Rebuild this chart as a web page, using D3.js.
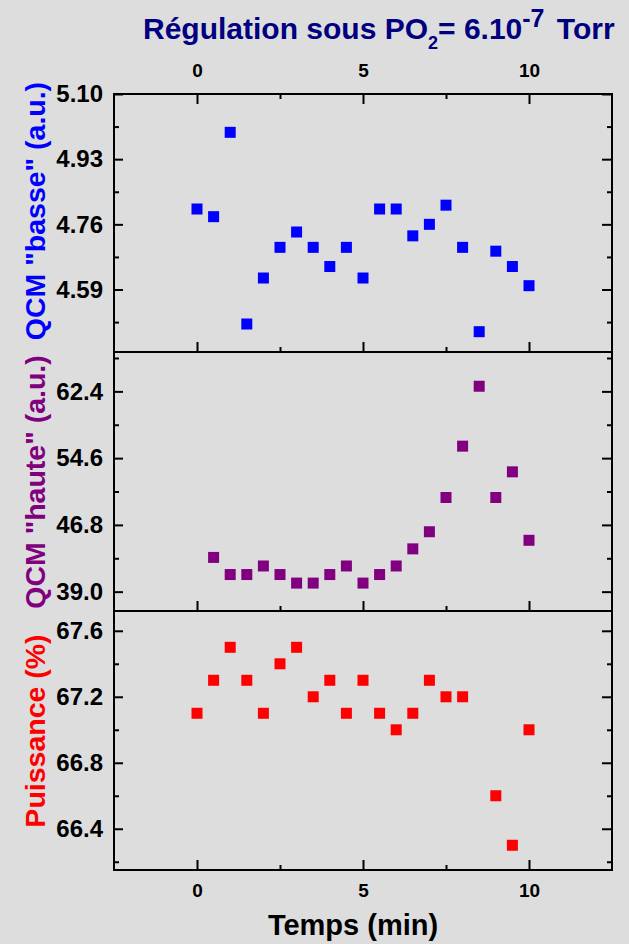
<!DOCTYPE html>
<html>
<head>
<meta charset="utf-8">
<script src="https://cdnjs.cloudflare.com/ajax/libs/d3/7.8.5/d3.min.js"></script>
<style>
body { margin: 0; background: #dddddd; }
svg { display: block; }
text { font-family: "Liberation Sans", Arial, sans-serif; font-weight: bold; }
</style>
</head>
<body>
<div id="chart"></div>
<script>
// temps (min)
var temps = [0, 0.5, 1, 1.5, 2, 2.5, 3, 3.5, 4, 4.5, 5, 5.5, 6, 6.5, 7, 7.5, 8, 8.5, 9, 9.5, 10];

var qcmBasse = [4.80, 4.78, 5.00, 4.50, 4.62, 4.70, 4.74, 4.70, 4.65, 4.70, 4.62,
                4.80, 4.80, 4.73, 4.76, 4.81, 4.70, 4.48, 4.69, 4.65, 4.60];
var qcmHaute = [null, 43.0, 41.0, 41.0, 42.0, 41.0, 40.0, 40.0, 41.0, 42.0, 40.0,
                41.0, 42.0, 44.0, 46.0, 50.0, 56.0, 63.0, 50.0, 53.0, 45.0];
var puissance = [67.1, 67.3, 67.5, 67.3, 67.1, 67.4, 67.5, 67.2, 67.3, 67.1, 67.3,
                 67.1, 67.0, 67.1, 67.3, 67.2, 67.2, null, 66.6, 66.3, 67.0];

var xTicks = [0, 5, 10];
var xMinor = [2.5, 7.5];
var basseTicks = [4.59, 4.76, 4.93, 5.10];
var basseMinor = [4.505, 4.675, 4.845, 5.015];
var hauteTicks = [39.0, 46.8, 54.6, 62.4];
var hauteMinor = [42.9, 50.7, 58.5, 66.3];
var puisTicks = [66.4, 66.8, 67.2, 67.6];
var puisMinor = [66.2, 66.6, 67.0, 67.4];

var width = 629, height = 944;
var left = 114, right = 612;

var svg = d3.select("#chart").append("svg")
    .attr("width", width)
    .attr("height", height);

var x = d3.scaleLinear().domain([-2.5, 12.5]).range([left, right]);

var panels = [
    {values: qcmBasse, color: "#0000ff", top: 94, bottom: 352, domain: [4.427, 5.10],
     ticks: basseTicks, minor: basseMinor, fmt: ".2f",
     label: 'QCM "basse" (a.u.)', labelY: 211},
    {values: qcmHaute, color: "#800080", top: 352, bottom: 611, domain: [36.74, 67.0],
     ticks: hauteTicks, minor: hauteMinor, fmt: ".1f",
     label: 'QCM "haute" (a.u.)', labelY: 482},
    {values: puissance, color: "#ff0000", top: 611, bottom: 870, domain: [66.15, 67.72],
     ticks: puisTicks, minor: puisMinor, fmt: ".1f",
     label: "Puissance (%)", labelY: 731}
];

function styleAxis(g, size) {
    g.select(".domain").remove();
    g.selectAll("line").attr("stroke", "#000").attr("stroke-width", 2);
    g.attr("font-family", null).attr("font-size", size);
}

panels.forEach(function(p, i) {
    var y = d3.scaleLinear().domain(p.domain).range([p.bottom, p.top]);
    var h = p.bottom - p.top;

    // y ticks left with labels
    svg.append("g")
        .attr("transform", "translate(" + left + ",0)")
        .call(d3.axisLeft(y).tickValues(p.ticks).tickSize(-9).tickPadding(11)
            .tickFormat(d3.format(p.fmt)))
        .call(styleAxis, 24);
    svg.append("g")
        .attr("transform", "translate(" + left + ",0)")
        .call(d3.axisLeft(y).tickValues(p.minor).tickSize(-5).tickFormat(""))
        .call(styleAxis, 24);
    // right ticks
    svg.append("g")
        .attr("transform", "translate(" + right + ",0)")
        .call(d3.axisRight(y).tickValues(p.ticks).tickSize(-10).tickFormat(""))
        .call(styleAxis, 24);
    svg.append("g")
        .attr("transform", "translate(" + right + ",0)")
        .call(d3.axisRight(y).tickValues(p.minor).tickSize(-5).tickFormat(""))
        .call(styleAxis, 24);

    // bottom x ticks (inward)
    var bottomAxis = d3.axisBottom(x).tickValues(xTicks).tickSize(-10).tickPadding(14);
    if (i < 2) bottomAxis.tickFormat("");
    svg.append("g")
        .attr("transform", "translate(0," + p.bottom + ")")
        .call(bottomAxis)
        .call(styleAxis, 19);
    svg.append("g")
        .attr("transform", "translate(0," + p.bottom + ")")
        .call(d3.axisBottom(x).tickValues(xMinor).tickSize(-5).tickFormat(""))
        .call(styleAxis, 19);

    if (i == 0) {
        svg.append("g")
            .attr("transform", "translate(0," + p.top + ")")
            .call(d3.axisTop(x).tickValues(xTicks).tickSize(-10).tickPadding(17))
            .call(styleAxis, 19);
        svg.append("g")
            .attr("transform", "translate(0," + p.top + ")")
            .call(d3.axisTop(x).tickValues(xMinor).tickSize(-5).tickFormat(""))
            .call(styleAxis, 19);
    }

    // frame
    svg.append("rect")
        .attr("x", left).attr("y", p.top)
        .attr("width", right - left).attr("height", h)
        .attr("fill", "none")
        .attr("stroke", "#000")
        .attr("stroke-width", 2);

    // points
    var pts = temps.map(function(t, j) { return {t: t, v: p.values[j]}; })
        .filter(function(d) { return d.v != null; });
    svg.append("g").selectAll("rect")
        .data(pts)
        .enter().append("rect")
        .attr("x", function(d) { return x(d.t) - 5.5; })
        .attr("y", function(d) { return y(d.v) - 5.5; })
        .attr("width", 11)
        .attr("height", 11)
        .attr("fill", p.color);

    // y title
    svg.append("text")
        .attr("transform", "translate(45," + p.labelY + ") rotate(-90)")
        .attr("text-anchor", "middle")
        .attr("font-size", 28.5)
        .attr("fill", p.color)
        .text(p.label);
});

// x title
svg.append("text")
    .attr("x", 353)
    .attr("y", 935)
    .attr("text-anchor", "middle")
    .attr("font-size", 29)
    .text("Temps (min)");

// titre
var title = svg.append("text")
    .attr("x", 143)
    .attr("y", 39)
    .attr("font-size", 30)
    .attr("fill", "#000080");
title.append("tspan").text("Régulation sous PO");
title.append("tspan").attr("font-size", 18).attr("dy", 10).text("2");
title.append("tspan").attr("dy", -10).text("= 6.10");
title.append("tspan").attr("font-size", 25).attr("dy", -12).text("-7");
title.append("tspan").attr("dy", 12).attr("dx", 4).text(" Torr");
</script>
</body>
</html>
